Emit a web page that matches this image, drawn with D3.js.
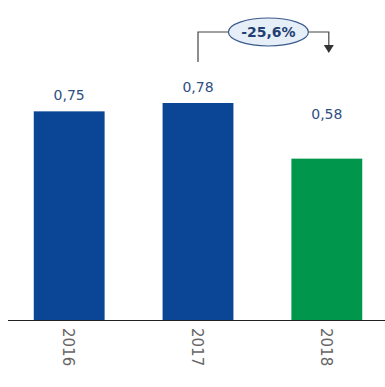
<!DOCTYPE html>
<html><head><meta charset="utf-8">
<script src="https://cdn.jsdelivr.net/npm/d3@7"></script>
<style>body{margin:0;background:#fff}svg{display:block}</style>
</head><body>
<script>
const years = ["2016", "2017", "2018"];
const values = [0.75, 0.78, 0.58];
const valueLabels = ["0,75", "0,78", "0,58"];
const barColors = ["#0b4595", "#0b4595", "#00964b"];
const changeLabel = "-25,6%";

const W = 385, H = 387;
const svg = d3.select("body").append("svg").attr("width", W).attr("height", H);
const baseY = 320;
const x = d3.scaleBand().domain(years).range([8, 388]).paddingInner(0.45).paddingOuter(0.2);
const y = d3.scaleLinear().domain([0, 0.78]).range([baseY, 103]);

svg.selectAll("rect.bar").data(years).enter().append("rect")
  .attr("x", d => x(d)).attr("width", x.bandwidth())
  .attr("y", (d, i) => y(values[i])).attr("height", (d, i) => baseY - y(values[i]))
  .attr("fill", (d, i) => barColors[i]);

svg.append("line").attr("x1", 8).attr("x2", 385).attr("y1", baseY + 0.5).attr("y2", baseY + 0.5)
  .attr("stroke", "#222").attr("stroke-width", 1.2);

svg.selectAll("text.val").data(years).enter().append("text")
  .attr("x", d => x(d) + x.bandwidth() / 2)
  .attr("y", (d, i) => y(values[i]) - (i === 2 ? 40 : 11))
  .attr("text-anchor", "middle").attr("font-family", "DejaVu Sans").attr("font-size", 14)
  .attr("fill", "#2f4f82").text((d, i) => valueLabels[i]);

svg.selectAll("text.yr").data(years).enter().append("text")
  .attr("transform", d => `translate(${x(d) + x.bandwidth() / 2 - 6},${baseY + 8}) rotate(90)`)
  .attr("font-family", "DejaVu Sans").attr("font-size", 15).attr("fill", "#666")
  .text(d => d);

// change arrow
const x1 = x("2017") + x.bandwidth() / 2, x2 = x("2018") + x.bandwidth() / 2 + 2;
const topY = 32;
svg.append("path").attr("d", `M${x1},62 V${topY} H${x2} V46`).attr("fill", "none")
  .attr("stroke", "#444").attr("stroke-width", 1.2);
svg.append("path").attr("d", `M${x2 - 5},45 L${x2 + 5},45 L${x2},53 Z`).attr("fill", "#333");
const cx = (x1 + x2) / 2 + 5;
svg.append("ellipse").attr("cx", cx).attr("cy", topY).attr("rx", 40).attr("ry", 14)
  .attr("fill", "#e6eef8").attr("stroke", "#3a5a8c").attr("stroke-width", 1.2);
svg.append("text").attr("x", cx).attr("y", topY + 5).attr("text-anchor", "middle")
  .attr("font-family", "DejaVu Sans").attr("font-weight", "bold").attr("font-size", 14)
  .attr("fill", "#1f3f73").text(changeLabel);
</script>
</body></html>
